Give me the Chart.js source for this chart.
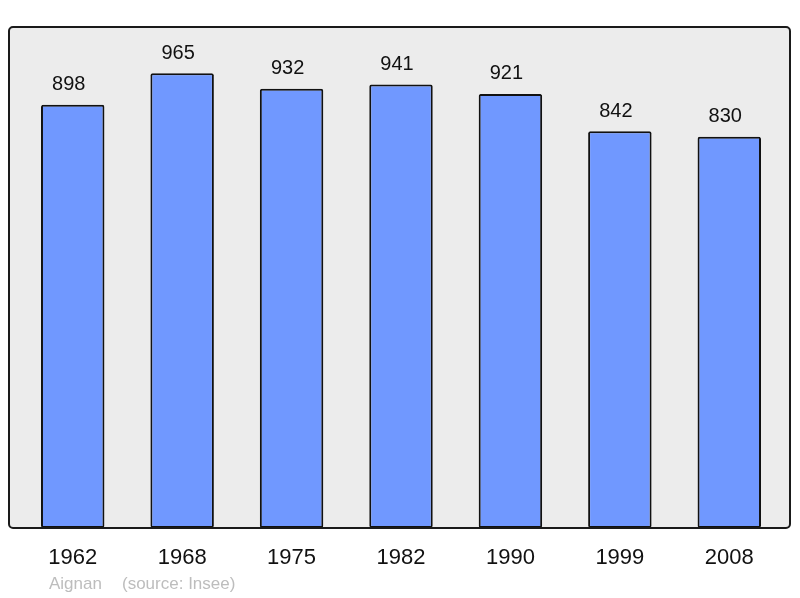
<!DOCTYPE html>
<html>
<head>
<meta charset="utf-8">
<script src="https://cdn.jsdelivr.net/npm/chart.js@4/dist/chart.umd.min.js"></script>
<style>
html,body{margin:0;padding:0;background:#fff;}
#wrap{width:800px;height:598px;position:relative;}
</style>
</head>
<body>
<div id="wrap"><canvas id="c" width="800" height="598"></canvas></div>
<script>
const years = ["1962","1968","1975","1982","1990","1999","2008"];
const population = [898, 965, 932, 941, 921, 842, 830];
const placeName = "Aignan";
const sourceText = "(source: Insee)";

const FONT = "'Liberation Sans', Arial, sans-serif";

const framePlugin = {
  id: 'frame',
  beforeDatasetsDraw(chart) {
    const {ctx, chartArea: a} = chart;
    ctx.save();
    ctx.beginPath();
    ctx.roundRect(a.left - 9, a.top, (a.right + 6) - (a.left - 9), a.bottom - a.top, 4);
    ctx.fillStyle = '#ececec';
    ctx.fill();
    ctx.restore();
  },
  afterDatasetsDraw(chart) {
    const {ctx, chartArea: a} = chart;
    ctx.save();
    ctx.beginPath();
    ctx.roundRect(a.left - 9, a.top, (a.right + 6) - (a.left - 9), a.bottom - a.top, 4);
    ctx.lineWidth = 2;
    ctx.strokeStyle = '#1a1a1a';
    ctx.stroke();
    // value labels
    const meta = chart.getDatasetMeta(0);
    ctx.fillStyle = '#111';
    ctx.font = '20px ' + FONT;
    ctx.textAlign = 'center';
    ctx.textBaseline = 'middle';
    meta.data.forEach((bar, i) => {
      ctx.fillText(String(population[i]), bar.x - 4, bar.y - 20);
    });
    // x labels
    const xs = chart.scales.x;
    ctx.font = '22px ' + FONT;
    years.forEach((y, i) => {
      ctx.fillText(y, xs.getPixelForValue(i), a.bottom + 30);
    });
    // source
    ctx.font = '17px ' + FONT;
    ctx.fillStyle = '#bdbdbd';
    ctx.textAlign = 'left';
    ctx.fillText(placeName, 49, a.bottom + 56);
    ctx.fillText(sourceText, 122, a.bottom + 56);
    ctx.restore();
  }
};

new Chart(document.getElementById('c'), {
  type: 'bar',
  data: {
    labels: years,
    datasets: [{
      data: population,
      backgroundColor: '#7098ff',
      borderColor: '#111',
      borderWidth: 2,
      borderRadius: 2,
      borderSkipped: false,
      categoryPercentage: 1,
      barPercentage: 0.58
    }]
  },
  options: {
    responsive: false,
    animation: false,
    devicePixelRatio: 1,
    layout: { padding: { left: 18, right: 16, top: 27, bottom: 70 } },
    plugins: { legend: { display: false }, tooltip: { enabled: false } },
    scales: {
      x: { display: false, offset: true },
      y: { display: false, min: 0, max: 1063 }
    }
  },
  plugins: [framePlugin]
});
</script>
</body>
</html>
